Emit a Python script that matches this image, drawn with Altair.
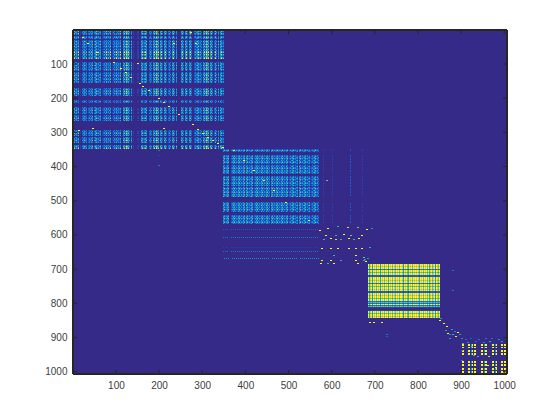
import altair as alt
import pandas as pd

N = 1006
GX, GY = 434, 344
PALETTE = ["#352a87", "#2a3fb0", "#1a5cd6", "#1278d8", "#0d93d2", "#0aa8c6",
           "#2eb7a4", "#87bf77", "#fdc538", "#f9fb0e"]
TICKS = [100, 200, 300, 400, 500, 600, 700, 800, 900, 1000]

# blocks: column strengths and row strengths, one digit per drawn cell
B1_COLS = ("473547" "010" "36536" "0" "46365" "0" "3574635" "01" "46374637" "01" "36473647" "00"
           "573957305" "010001100" "574675" "00" "3630573957" "0" "5740573" "0" "463057305" "0000"
           "57305740573" "00" "46357" "4630573957" "0" "573047305" "0" "5746")
B1_ROWS = ("675750575" "0" "47557475" "36579586579" "000" "465746574" "0" "46574657465" "00000"
           "46575746" "0000" "3640" "000" "4657465" "0" "465746" "000000000" "465746" "0" "465746"
           "00" "5768")
B2_COLS = ("574657" "00" "46573645736457" "1" "5746357" "1" "4657364573645736" "0"
           "57364573645736457" "1" "463574635" "0" "57463574635" "1" "46357463")
B2_ROWS = ("374" "000" "465746574" "1" "465746574" "00" "4657465746" "1" "5746574657" "00000"
           "4657465746" "000" "465746574" "0")
B4_COLS = ("9689" "5" "98979" "89" "5" "9897989" "6" "98" "9798" "7" "98979" "98" "5"
           "9897" "6" "9897989" "8" "98" "6" "98979" "8979" "6" "89789" "5" "9879")
B4_ROWS = ("99899" "3" "99799" "22" "999899" "3" "9979989" "22" "9989979" "9373937" "1001"
           "9979989")
B6_COLS = ("000" "990" "000" "99059099" "00000" "9905990" "0000" "99059" "0000" "99099" "0")
B6_ROWS = ("0000000" "9909" "00" "990990" "00000" "99099" "00" "99099" "0")
# column start, row start, columns, rows, gain, mixed
BLOCKS = [(0, 0, B1_COLS, B1_ROWS, 1.1, True), (150, 119, B2_COLS, B2_ROWS, 1.1, True),
          (295, 234, B4_COLS, B4_ROWS, 1.0, False), (386, 307, B6_COLS, B6_ROWS, 1.0, False)]
STRETCH = {"3": "2", "4": "3", "5": "5", "6": "6", "7": "8"}
ALT_DIGIT = {"3": "6", "4": "2", "5": "7", "6": "3", "7": "4"}

# faint rows below block 2 and faint columns beside it: index, strength
B2_LOW_ROWS = [(199, 2), (207, 3), (217, 1), (221, 3), (228, 4)]
B2_SIDE_COLS = [(250, 1), (259, 1), (277, 2), (289, 1)]

# sparse cells: column, row, value
SPARSE = [(9, 7, 9), (14, 13, 9), (24, 22, 9), (40, 32, 9), (47, 38, 9), (52, 42, 9), (57, 47, 9),
          (66, 53, 9), (69, 56, 9), (75, 60, 9), (85, 68, 9), (90, 72, 9), (95, 76, 9), (105, 84, 9),
          (119, 94, 9), (124, 99, 9), (129, 103, 9), (134, 107, 9), (139, 110, 9), (144, 113, 9),
          (149, 117, 9), (5, 100, 9), (19, 98, 9), (90, 98, 9), (100, 13, 9), (122, 13, 9), (64, 33, 9),
          (117, 2, 9), (85, 120, 3), (85, 125, 1), (85, 135, 3),
          (160, 120, 9), (170, 130, 9), (180, 140, 9), (190, 150, 9), (200, 160, 9), (212, 172, 9),
          (235, 190, 9), (246, 200, 9), (253, 150, 7),
          (254, 198, 9), (264, 196, 6), (274, 197, 8), (284, 197, 7), (293, 199, 9), (298, 198, 5),
          (252, 205, 9), (262, 205, 6), (270, 204, 9), (277, 205, 7), (288, 205, 9),
          (250, 209, 6), (257, 208, 9), (262, 209, 8), (267, 209, 6), (275, 208, 9), (280, 209, 6), (285, 208, 9),
          (248, 218, 9), (257, 218, 9), (264, 218, 9), (275, 218, 9), (282, 218, 9), (288, 218, 9), (296, 217, 6),
          (260, 225, 6), (282, 225, 9), (248, 230, 9), (257, 230, 9), (267, 230, 6), (282, 230, 9), (290, 230, 5),
          (247, 233, 9), (254, 233, 6), (260, 233, 9), (284, 233, 9),
          (291, 229, 5), (292, 231, 9), (294, 228, 5), (290, 227, 7),
          (296, 292, 9), (300, 292, 9), (308, 292, 9), (366, 290, 9), (367, 288, 5),
          (370, 293, 9), (373, 296, 9), (378, 299, 5), (381, 301, 4), (384, 302, 9), (372, 300, 5),
          (374, 303, 9), (379, 304, 6), (382, 306, 9), (376, 308, 5), (376, 304, 4), (386, 304, 5),
          (313, 304, 3), (313, 306, 2), (379, 240, 3), (379, 260, 3), (388, 308, 4), (392, 309, 3),
          (397, 308, 2), (405, 309, 3),
          (412, 308, 3), (418, 308, 3), (425, 309, 4), (389, 313, 6), (394, 312, 4), (402, 311, 3),
          (410, 312, 4), (416, 311, 6), (428, 311, 5), (388, 320, 3), (388, 330, 4), (400, 325, 6),
          (408, 320, 9), (415, 326, 8), (422, 337, 9), (398, 316, 6), (404, 326, 6), (414, 335, 9),
          (429, 342, 9)]

rows = []
def put(cx, cy, v):
    rows.append({"x": .5 + cx * N / GX, "x2": .5 + (cx + 1) * N / GX,
                 "y": .5 + cy * N / GY, "y2": .5 + (cy + 1) * N / GY, "v": str(v)})

for x0, y0, cols, rws, gain, mixed in BLOCKS:
    for j, rv in enumerate(rws):
        for i, cv in enumerate(cols):
            if mixed:
                if j % 3 == 2:
                    cv = ALT_DIGIT.get(cv, cv)
                cv = STRETCH.get(cv, cv)
            v = min(9, round(int(rv) * int(cv) / 9 * gain))
            if v:
                put(x0 + i, y0 + j, v)
for r, s in B2_LOW_ROWS:
    for i, cv in enumerate(B2_COLS):
        if cv != "0" and (i + r) % 2:
            put(150 + i, r, s)
for c, s in B2_SIDE_COLS:
    for j, rv in enumerate(B2_ROWS):
        if rv != "0" and (j + c) % 3:
            put(c, 119 + j, s)
for c, r, v in SPARSE:
    for dx in (0, 1):
        put(c + dx, r, v)
df = pd.DataFrame(rows)

xs = alt.Scale(domain=[0.5, N + 0.5], nice=False, zero=False)
ys = alt.Scale(domain=[N + 0.5, 0.5], nice=False, zero=False)
FONT = "Liberation Sans"
x_axis = alt.Axis(values=TICKS, tickSize=0, grid=False, title=None, labelFont=FONT, labelFontSize=10,
                  labelColor="#404040", labelPadding=6, domain=False, labelOverlap=False, format="d")
y_axis = alt.Axis(values=TICKS, tickSize=0, grid=False, title=None, labelFont=FONT, labelFontSize=10,
                  labelColor="#404040", labelPadding=6, domain=False, labelOverlap=False, format="d")

cells = alt.Chart(df).mark_rect(strokeWidth=0).encode(
    x=alt.X("x:Q", scale=xs, axis=x_axis), x2="x2:Q",
    y=alt.Y("y:Q", scale=ys, axis=y_axis), y2="y2:Q",
    color=alt.Color("v:N", scale=alt.Scale(domain=[str(i) for i in range(10)], range=PALETTE), legend=None),
)
tdf = pd.DataFrame({"t": TICKS})
INK = "#262626"
tick_layers = [
    alt.Chart(tdf).mark_rule(color=INK, strokeWidth=1).encode(x=alt.X("t:Q", scale=xs, axis=x_axis), y=alt.value(GY), y2=alt.value(GY - 4)),
    alt.Chart(tdf).mark_rule(color=INK, strokeWidth=1).encode(x=alt.X("t:Q", scale=xs, axis=x_axis), y=alt.value(0), y2=alt.value(4)),
    alt.Chart(tdf).mark_rule(color=INK, strokeWidth=1).encode(y=alt.Y("t:Q", scale=ys, axis=y_axis), x=alt.value(0), x2=alt.value(4)),
    alt.Chart(tdf).mark_rule(color=INK, strokeWidth=1).encode(y=alt.Y("t:Q", scale=ys, axis=y_axis), x=alt.value(GX), x2=alt.value(GX - 4)),
    alt.Chart(tdf).mark_rule(color=INK).encode(x=alt.value(0), x2=alt.value(GX), y=alt.value(0)),
    alt.Chart(tdf).mark_rule(color=INK).encode(x=alt.value(0), x2=alt.value(GX), y=alt.value(GY)),
    alt.Chart(tdf).mark_rule(color=INK).encode(y=alt.value(0), y2=alt.value(GY), x=alt.value(0)),
    alt.Chart(tdf).mark_rule(color=INK).encode(y=alt.value(0), y2=alt.value(GY), x=alt.value(GX)),
]
chart = alt.layer(cells, *tick_layers).resolve_scale(x="shared", y="shared").properties(
    width=GX, height=GY, background="white",
    autosize=alt.AutoSizeParams(type="none"),
    padding={"left": 65, "top": 22, "right": 45, "bottom": 30},
).configure_view(fill=PALETTE[0], stroke=None)
chart.save("out.html", embed_options={"renderer": "svg", "actions": False})
